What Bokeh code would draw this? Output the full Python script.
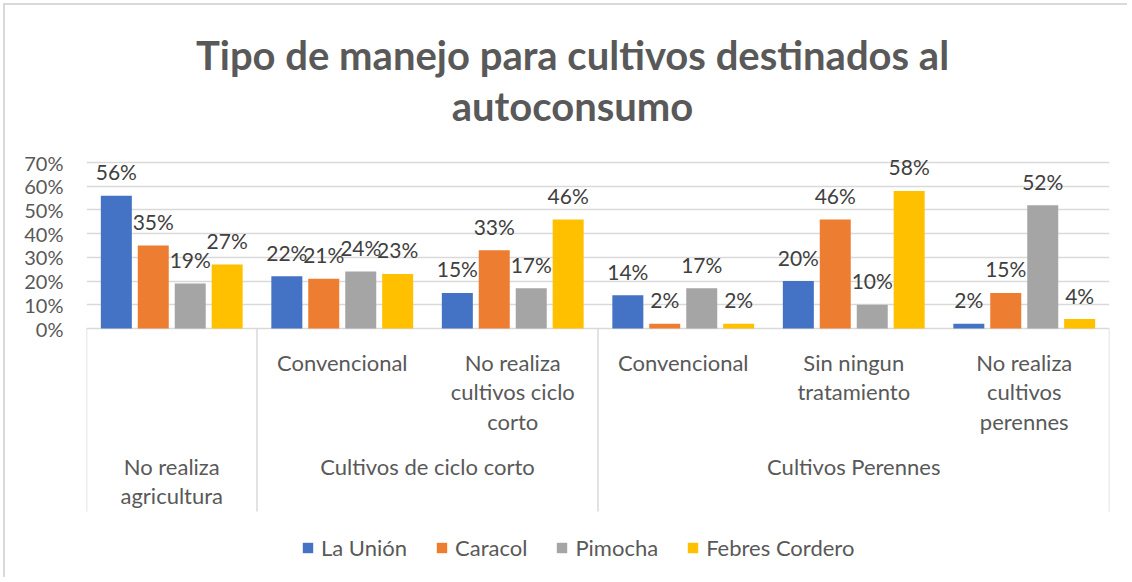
from bokeh.plotting import figure
from bokeh.models import (Range1d, FixedTicker, PrintfTickFormatter, ColumnDataSource,
                          Legend, LegendItem, Label)
from bokeh.core.properties import value
from bokeh.embed import file_html
from bokeh.resources import INLINE

# ---------------- data ----------------
series = ["La Unión", "Caracol", "Pimocha", "Febres Cordero"]
sub_labels = ["", "Convencional", "No realiza\ncultivos ciclo\ncorto",
              "Convencional", "Sin ningun\ntratamiento", "No realiza\ncultivos\nperennes"]
group_labels = ["No realiza\nagricultura", "Cultivos de ciclo corto", "Cultivos Perennes"]
group_start = [0, 1, 3]
group_end = [1, 3, 6]
la_union = [56, 22, 15, 14, 20, 2]
caracol = [35, 21, 33, 2, 46, 15]
pimocha = [19, 24, 17, 17, 10, 52]
febres = [27, 23, 46, 2, 58, 4]
y_ticks = [0, 10, 20, 30, 40, 50, 60, 70]
title_lines = ["Tipo de manejo para cultivos destinados al", "autoconsumo"]

values_by_series = [la_union, caracol, pimocha, febres]
colors = ["#4472C4", "#ED7D31", "#A5A5A5", "#FFC000"]

# ---------------- layout ----------------
FONT = "Lato"
ORIGIN = 6                      # page offset of the figure content (1 + 3 margin + 2 border)
W, H = 1124, 574
FRAME_L, FRAME_R = 87, 1110          # page pixels
Y0_PIX, Y70_PIX = 329, 163            # page pixels of 0% and 70%
PX_PER = (Y0_PIX - Y70_PIX) / 70.0
n_cat = len(sub_labels)
SLOT = (FRAME_R - FRAME_L) / n_cat


def py(ypix):
    return (Y0_PIX - ypix) / PX_PER


def px(xpix):
    return (xpix - FRAME_L) / SLOT


y_top = py(ORIGIN)
y_bot = py(ORIGIN + H)

p = figure(width=W, height=H, output_backend="svg", toolbar_location=None,
           x_range=Range1d(0, n_cat), y_range=Range1d(y_bot, y_top),
           x_axis_location=None,
           min_border_left=FRAME_L - ORIGIN, min_border_right=W - (FRAME_R - ORIGIN),
           min_border_top=0, min_border_bottom=0)
p.styles = {"border-left": "2px solid #D9D9D9", "border-top": "2px solid #D9D9D9",
            "margin-left": "3px", "margin-top": "3px"}
p.outline_line_color = None
p.xgrid.visible = False
p.ygrid.ticker = FixedTicker(ticks=y_ticks)
p.ygrid.grid_line_color = "#D9D9D9"
p.ygrid.grid_line_width = 1.5

ax = p.yaxis[0]
ax.ticker = FixedTicker(ticks=y_ticks)
ax.formatter = PrintfTickFormatter(format="%d%%")
ax.axis_line_color = None
ax.major_tick_line_color = None
ax.minor_tick_line_color = None
ax.major_tick_out = 0
ax.major_tick_in = 0
ax.major_label_standoff = 23
ax.major_label_text_font = FONT
ax.major_label_text_font_size = "20px"
ax.major_label_text_color = "#595959"

# bars
offsets = [-0.325, -0.1085, 0.1085, 0.325]
BAR_W = 31 / SLOT
renderers = []
for name, vals, col, off in zip(series, values_by_series, colors, offsets):
    src = ColumnDataSource(dict(x=[i + 0.5 + off for i in range(n_cat)], top=vals,
                                lab=[f"{v}%" for v in vals]))
    r = p.vbar(x="x", top="top", bottom=0, width=BAR_W, source=src,
               fill_color=col, line_color=None)
    renderers.append(r)
    p.text(x="x", y="top", text="lab", source=src, text_align="center",
           text_baseline="middle", y_offset=-24, text_font=value(FONT),
           text_font_size="21px", text_color="#404040")

# category axis box
box_bottom = py(512)
p.segment(x0=group_start + [n_cat], y0=[0] * 4, x1=group_start + [n_cat], y1=[box_bottom] * 4,
          line_color="#D9D9D9", line_width=1.5)

# inner labels
p.text(x=[i + 0.5 for i in range(n_cat)], y=[0] * n_cat, text=sub_labels,
       text_align="center", text_baseline="top", y_offset=20,
       text_font=value(FONT), text_font_size="22px", text_color="#595959",
       text_line_height=1.1)
# outer labels
p.text(x=[(s + e) / 2 for s, e in zip(group_start, group_end)], y=[0] * 3, text=group_labels,
       text_align="center", text_baseline="top", y_offset=124,
       text_font=value(FONT), text_font_size="22px", text_color="#595959",
       text_line_height=1.1)

# title
for line, yp in zip(title_lines, [55, 106]):
    p.add_layout(Label(x=px(573), y=py(yp), text=line, text_align="center",
                       text_baseline="middle", text_font=FONT, text_font_size="40px",
                       text_font_style="bold", text_color="#595959"))

# legend
legend = Legend(items=[LegendItem(label=s, renderers=[r]) for s, r in zip(series, renderers)],
                orientation="horizontal", location=(302 - FRAME_L, (ORIGIN + H) - 562),
                label_text_font=FONT, label_text_font_size="22px", label_text_color="#595959",
                glyph_width=13, glyph_height=13, label_standoff=7, spacing=28,
                padding=0, margin=0, border_line_color=None, background_fill_alpha=0)
p.add_layout(legend)

open("out.html", "w").write(file_html(p, INLINE))
